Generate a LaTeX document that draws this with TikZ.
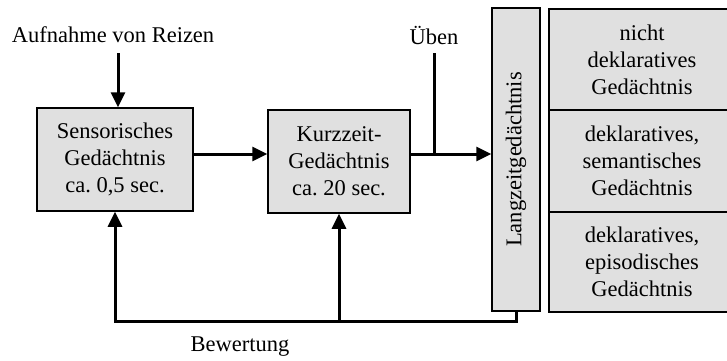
\documentclass[tikz,border=0pt]{standalone}
\usepackage{fontspec}
\setmainfont{Liberation Serif}
\usetikzlibrary{arrows.meta}
\definecolor{boxgray}{RGB}{224,224,224}
\frenchspacing
\begin{document}
\begin{tikzpicture}[x=1pt,y=-1pt,
  every node/.style={font=\fontsize{22.5}{27}\selectfont, inner sep=0pt},
  membox/.style={draw=black, line width=1.5pt, fill=boxgray, align=center, anchor=center},
  arr/.style={line width=3pt, -{Triangle[length=15pt,width=14pt]}},
  ln/.style={line width=3pt}]
\useasboundingbox (0,0) rectangle (727,360);
% boxes
\node[membox, minimum width=156pt, minimum height=103pt] (sens) at (115,159.5) {Sensorisches\\Gedächtnis\\ca. 0,5 sec.};
\node[membox, minimum width=142pt, minimum height=103pt] (kurz) at (339,161.5) {Kurzzeit-\\Gedächtnis\\ca. 20 sec.};
\node[membox, minimum width=48pt, minimum height=303pt] (lang) at (516,159.5) {};
\node[rotate=90] (langt) at (lang.center) {Langzeitgedächtnis};
\node[membox, minimum width=186pt, minimum height=101pt] (r1) at (642,59.5) {nicht\\deklaratives\\Gedächtnis};
\node[membox, minimum width=186pt, minimum height=102pt] (r2) at (642,161) {deklaratives,\\semantisches\\Gedächtnis};
\node[membox, minimum width=186pt, minimum height=100pt] (r3) at (642,262) {deklaratives,\\episodisches\\Gedächtnis};
% labels
\node (aufn) at (113,35) {Aufnahme von Reizen};
\node (uben) at (434,35) {Üben};
\node (bew) at (240,347) {Bewertung};
% coordinates
\coordinate (aufnEnd) at (118,53);
\coordinate (ubenEnd) at (434,53);
\coordinate (j) at (434,154);
\coordinate (fb) at (516,321);
% connectors
\draw[arr] (aufnEnd) -- (aufnEnd |- sens.north);
\draw[arr] ([yshift=5.5pt]sens.east) -- ([yshift=5.5pt]sens.east -| kurz.west);
\draw[arr] ([yshift=7.5pt]kurz.east) -- ([yshift=7.5pt]kurz.east -| lang.west);
\draw[ln] (ubenEnd) -- (j);
\draw[arr] (lang.south) -- (fb) -- (fb -| sens.south) -- (sens.south);
\draw[arr] (fb -| kurz.south) -- (kurz.south);
\end{tikzpicture}
\end{document}
